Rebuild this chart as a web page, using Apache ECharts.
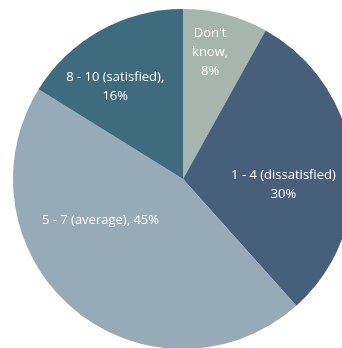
<!DOCTYPE html>
<html>
<head>
<meta charset="utf-8">
<script src="https://cdn.jsdelivr.net/npm/echarts@6/dist/echarts.min.js"></script>
<style>
  html, body { margin: 0; padding: 0; background: #fff; }
  #chart { width: 342px; height: 348px; }
</style>
</head>
<body>
<div id="chart"></div>
<script>
// satisfaction split, clockwise from 12 o'clock
const categories = ["Don't know", '1 - 4 (dissatisfied)', '5 - 7 (average)', '8 - 10 (satisfied)'];
const values = [8, 30, 45, 16];
const colors = ['#a6b5ae', '#475f7b', '#97aab7', '#3e6b7d'];

// how the label wraps in the original
const wrapName = [true, false, false, false];
const separators = [',\n', '\n', ', ', ',\n'];
// nudges from the default inside position
const offsets = [[5, -42], [13, 16], [-26, -26], [-25, -15]];

let myChart = echarts.init(document.getElementById('chart'));
let option = {
  animation: false,
  series: [
    {
      type: 'pie',
      center: [183, 179],
      radius: [0, 170],
      startAngle: 90,
      clockwise: true,
      silent: true,
      label: {
        show: true,
        position: 'inside',
        color: '#ffffff',
        fontFamily: 'Open Sans',
        fontSize: 13,
        lineHeight: 19,
        align: 'center',
        formatter: (p) => {
          let name = wrapName[p.dataIndex] ? p.name.replace(' ', '\n') : p.name;
          return name + separators[p.dataIndex] + p.value + '%';
        }
      },
      labelLine: { show: false },
      itemStyle: { borderWidth: 0 },
      data: categories.map((c, i) => ({
        name: c,
        value: values[i],
        itemStyle: { color: colors[i] },
        label: { offset: offsets[i] }
      }))
    }
  ]
};
myChart.setOption(option, true);
</script>
</body>
</html>
